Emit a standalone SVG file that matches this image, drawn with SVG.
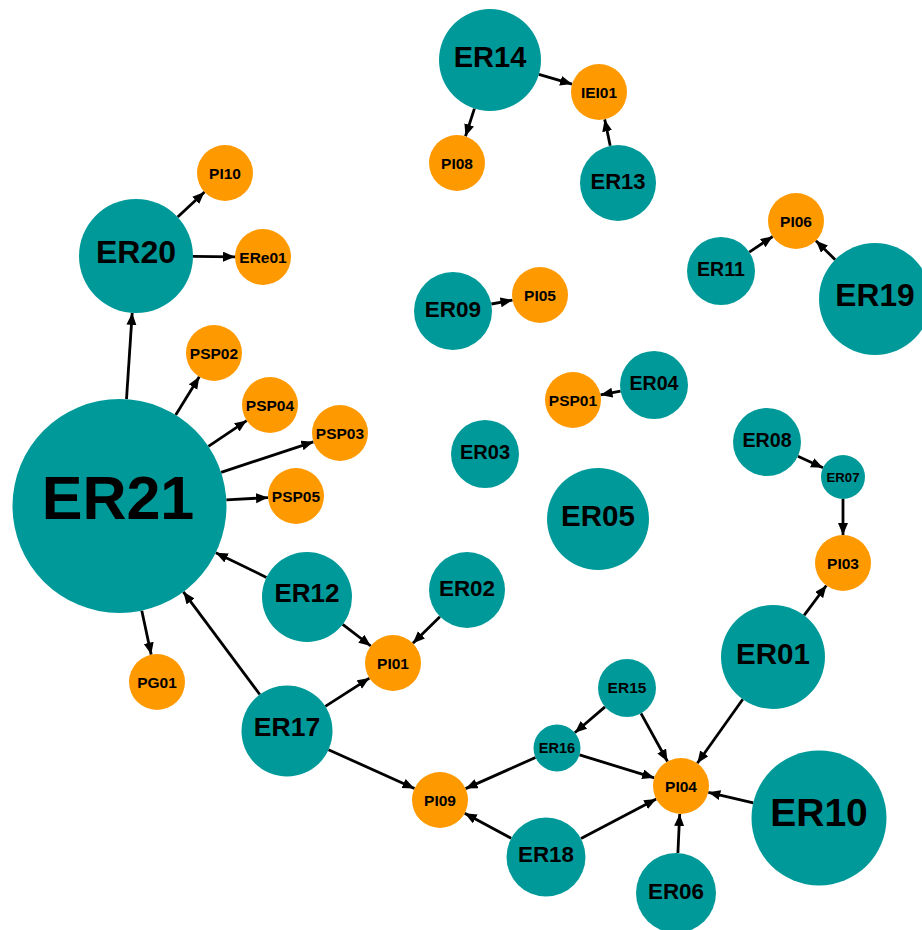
<svg xmlns="http://www.w3.org/2000/svg" width="922" height="930" viewBox="0 0 922 930">
<style>
.er{fill:#009999}
.pi{fill:#FF9900}
text{font-family:"Liberation Sans",Arial,sans-serif;font-weight:bold;fill:#000;text-anchor:middle}
.o{font-size:15.5px}
#edges line{stroke:#000;stroke-width:2.8;marker-end:url(#arr)}
</style>
<defs>
<marker id="arr" markerUnits="userSpaceOnUse" markerWidth="13" markerHeight="11" refX="12" refY="5" orient="auto">
<path d="M0,0 L12,5 L0,10 z" fill="#000"/>
</marker>
</defs>
<rect width="922" height="930" fill="#fff"/>
<g id="edges">
<line x1="538.9" y1="74.4" x2="572.1" y2="84.1"/>
<line x1="474.4" y1="108.6" x2="465.5" y2="136.3"/>
<line x1="610.2" y1="145.8" x2="604.7" y2="119.4"/>
<line x1="177.7" y1="217.1" x2="204.5" y2="192.1"/>
<line x1="193" y1="256.4" x2="235" y2="256.8"/>
<line x1="126.5" y1="399.2" x2="132.2" y2="312.9"/>
<line x1="175.7" y1="414.9" x2="199.3" y2="376.8"/>
<line x1="208.4" y1="446.4" x2="246.7" y2="420.6"/>
<line x1="221.1" y1="472.4" x2="313.4" y2="441.8"/>
<line x1="226.3" y1="499.9" x2="268" y2="497.6"/>
<line x1="141.8" y1="610.7" x2="151.2" y2="654.6"/>
<line x1="266.5" y1="577.4" x2="215.8" y2="552.7"/>
<line x1="259.8" y1="694.5" x2="183.4" y2="591.8"/>
<line x1="342.7" y1="624.4" x2="370.8" y2="646"/>
<line x1="439.9" y1="616.7" x2="412.9" y2="643.3"/>
<line x1="325.3" y1="706.4" x2="369.4" y2="678.1"/>
<line x1="328.5" y1="749.7" x2="414.5" y2="788.5"/>
<line x1="749.3" y1="252.1" x2="772.7" y2="236.5"/>
<line x1="835.2" y1="259.7" x2="815.9" y2="240.7"/>
<line x1="491.4" y1="304" x2="512.5" y2="300.1"/>
<line x1="620.6" y1="391.2" x2="600.5" y2="394.9"/>
<line x1="797.9" y1="456.2" x2="823" y2="467.8"/>
<line x1="843" y1="499" x2="843" y2="535"/>
<line x1="804.1" y1="615.3" x2="826.3" y2="585.5"/>
<line x1="742.8" y1="699.3" x2="697.3" y2="763.2"/>
<line x1="605" y1="706.9" x2="574.8" y2="732.7"/>
<line x1="641" y1="713.4" x2="667.5" y2="761.5"/>
<line x1="535.5" y1="757.5" x2="465.6" y2="788.6"/>
<line x1="579.5" y1="754.9" x2="654.2" y2="777.8"/>
<line x1="511.2" y1="838.3" x2="464.7" y2="813.3"/>
<line x1="581" y1="838.6" x2="656.2" y2="799"/>
<line x1="753.3" y1="802.8" x2="708.3" y2="792.3"/>
<line x1="677.9" y1="853" x2="679.7" y2="814"/>
</g>
<g id="ER14"><circle class="er" cx="490" cy="60" r="51"/><text x="490" y="67" font-size="29">ER14</text></g>
<g id="IEI01"><circle class="pi" cx="599" cy="92" r="28"/><text class="o" x="599" y="97.5">IEI01</text></g>
<g id="PI08"><circle class="pi" cx="457" cy="163" r="28"/><text class="o" x="457" y="168.5">PI08</text></g>
<g id="ER13"><circle class="er" cx="618" cy="183" r="38"/><text x="618" y="189" font-size="22">ER13</text></g>
<g id="PI10"><circle class="pi" cx="225" cy="173" r="28"/><text class="o" x="225" y="178.5">PI10</text></g>
<g id="ER20"><circle class="er" cx="136" cy="256" r="57"/><text x="136" y="263" font-size="32">ER20</text></g>
<g id="ERe01"><circle class="pi" cx="263" cy="257" r="28"/><text class="o" x="263" y="262.5">ERe01</text></g>
<g id="PSP02"><circle class="pi" cx="214" cy="353" r="28"/><text class="o" x="214" y="358.5">PSP02</text></g>
<g id="PSP04"><circle class="pi" cx="270" cy="405" r="28"/><text class="o" x="270" y="410.5">PSP04</text></g>
<g id="PSP03"><circle class="pi" cx="340" cy="433" r="28"/><text class="o" x="340" y="438.5">PSP03</text></g>
<g id="PSP05"><circle class="pi" cx="296" cy="496" r="28"/><text class="o" x="296" y="501.5">PSP05</text></g>
<g id="ER21"><circle class="er" cx="119.5" cy="506" r="107"/><text x="118" y="519" font-size="61">ER21</text></g>
<g id="PG01"><circle class="pi" cx="157" cy="682" r="28"/><text class="o" x="157" y="687.5">PG01</text></g>
<g id="ER12"><circle class="er" cx="307" cy="597" r="45"/><text x="307" y="602" font-size="26">ER12</text></g>
<g id="ER17"><circle class="er" cx="287" cy="731" r="45.5"/><text x="287" y="736" font-size="26.5">ER17</text></g>
<g id="PI01"><circle class="pi" cx="393" cy="663" r="28"/><text class="o" x="393" y="668.5">PI01</text></g>
<g id="ER02"><circle class="er" cx="467" cy="590" r="38"/><text x="467" y="596" font-size="22.4">ER02</text></g>
<g id="PI09"><circle class="pi" cx="440" cy="800" r="28"/><text class="o" x="440" y="805.5">PI09</text></g>
<g id="PI06"><circle class="pi" cx="796" cy="221" r="28"/><text class="o" x="796" y="226.5">PI06</text></g>
<g id="ER11"><circle class="er" cx="721" cy="271" r="34"/><text x="721" y="275.5" font-size="19.6">ER11</text></g>
<g id="ER19"><circle class="er" cx="875" cy="299" r="56"/><text x="875" y="306" font-size="31.7">ER19</text></g>
<g id="ER09"><circle class="er" cx="453" cy="311" r="39"/><text x="453" y="317" font-size="22.5">ER09</text></g>
<g id="PI05"><circle class="pi" cx="540" cy="295" r="28"/><text class="o" x="540" y="300.5">PI05</text></g>
<g id="ER04"><circle class="er" cx="654" cy="385" r="34"/><text x="654" y="389.5" font-size="19.6">ER04</text></g>
<g id="PSP01"><circle class="pi" cx="573" cy="400" r="28"/><text class="o" x="573" y="405.5">PSP01</text></g>
<g id="ER03"><circle class="er" cx="485" cy="454" r="34"/><text x="485" y="459" font-size="20">ER03</text></g>
<g id="ER08"><circle class="er" cx="767" cy="442" r="34"/><text x="767" y="447" font-size="19.7">ER08</text></g>
<g id="ER07"><circle class="er" cx="843" cy="477" r="22"/><text x="843" y="481.5" font-size="13.2">ER07</text></g>
<g id="PI03"><circle class="pi" cx="843" cy="563" r="28"/><text class="o" x="843" y="568.5">PI03</text></g>
<g id="ER05"><circle class="er" cx="598" cy="519" r="51"/><text x="598" y="525.5" font-size="29.5">ER05</text></g>
<g id="ER01"><circle class="er" cx="773" cy="657" r="52"/><text x="773" y="664" font-size="29.5">ER01</text></g>
<g id="ER15"><circle class="er" cx="627" cy="688" r="29"/><text x="627" y="693" font-size="15.5">ER15</text></g>
<g id="ER16"><circle class="er" cx="557" cy="748" r="23.5"/><text x="557" y="752.5" font-size="14.5">ER16</text></g>
<g id="PI04"><circle class="pi" cx="681" cy="786" r="28"/><text class="o" x="681" y="791.5">PI04</text></g>
<g id="ER10"><circle class="er" cx="819" cy="818" r="67.5"/><text x="819" y="826" font-size="39">ER10</text></g>
<g id="ER18"><circle class="er" cx="546" cy="857" r="39.5"/><text x="546" y="862" font-size="22.4">ER18</text></g>
<g id="ER06"><circle class="er" cx="676" cy="893" r="40"/><text x="676" y="899" font-size="22.4">ER06</text></g>
</svg>
